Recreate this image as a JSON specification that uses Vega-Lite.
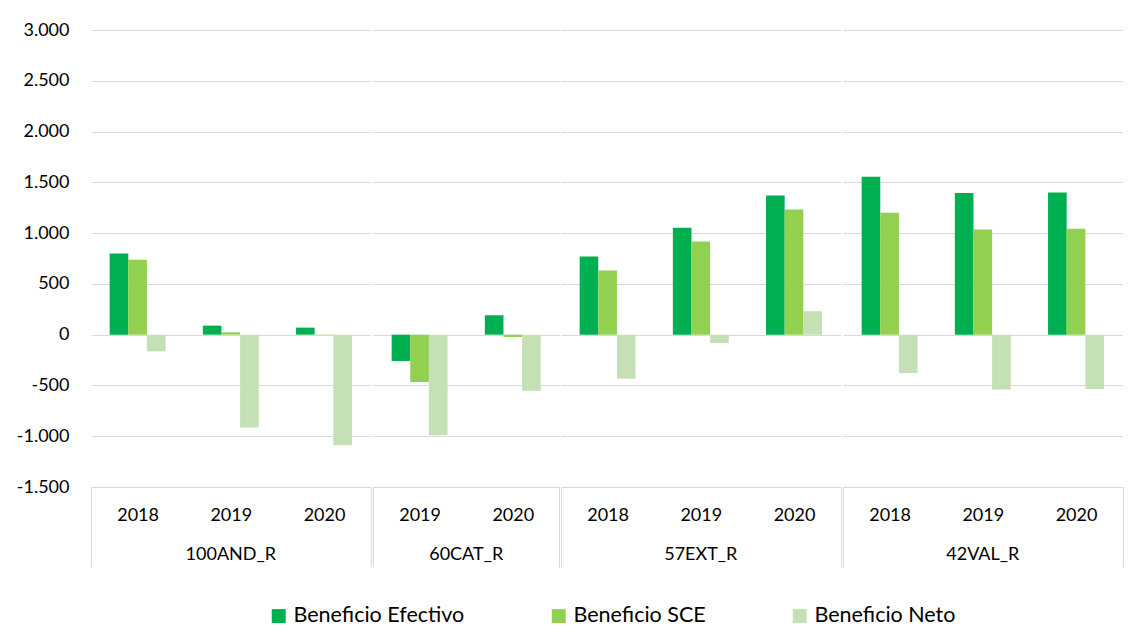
{
  "$schema": "https://vega.github.io/schema/vega-lite/v6.json",
  "padding": {"left": 16, "top": 21, "right": 10, "bottom": 0},
  "background": "white",
  "data": {
    "values": [
      {"region": "100AND_R", "year": "2018", "series": "Beneficio Efectivo", "value": 800},
      {"region": "100AND_R", "year": "2018", "series": "Beneficio SCE", "value": 738},
      {"region": "100AND_R", "year": "2018", "series": "Beneficio Neto", "value": -164},
      {"region": "100AND_R", "year": "2019", "series": "Beneficio Efectivo", "value": 89},
      {"region": "100AND_R", "year": "2019", "series": "Beneficio SCE", "value": 23},
      {"region": "100AND_R", "year": "2019", "series": "Beneficio Neto", "value": -915},
      {"region": "100AND_R", "year": "2020", "series": "Beneficio Efectivo", "value": 69},
      {"region": "100AND_R", "year": "2020", "series": "Beneficio SCE", "value": 3},
      {"region": "100AND_R", "year": "2020", "series": "Beneficio Neto", "value": -1089},
      {"region": "60CAT_R", "year": "2019", "series": "Beneficio Efectivo", "value": -259},
      {"region": "60CAT_R", "year": "2019", "series": "Beneficio SCE", "value": -466},
      {"region": "60CAT_R", "year": "2019", "series": "Beneficio Neto", "value": -990},
      {"region": "60CAT_R", "year": "2020", "series": "Beneficio Efectivo", "value": 191},
      {"region": "60CAT_R", "year": "2020", "series": "Beneficio SCE", "value": -23},
      {"region": "60CAT_R", "year": "2020", "series": "Beneficio Neto", "value": -553},
      {"region": "57EXT_R", "year": "2018", "series": "Beneficio Efectivo", "value": 770},
      {"region": "57EXT_R", "year": "2018", "series": "Beneficio SCE", "value": 633},
      {"region": "57EXT_R", "year": "2018", "series": "Beneficio Neto", "value": -433},
      {"region": "57EXT_R", "year": "2019", "series": "Beneficio Efectivo", "value": 1052},
      {"region": "57EXT_R", "year": "2019", "series": "Beneficio SCE", "value": 918},
      {"region": "57EXT_R", "year": "2019", "series": "Beneficio Neto", "value": -82},
      {"region": "57EXT_R", "year": "2020", "series": "Beneficio Efectivo", "value": 1370},
      {"region": "57EXT_R", "year": "2020", "series": "Beneficio SCE", "value": 1233},
      {"region": "57EXT_R", "year": "2020", "series": "Beneficio Neto", "value": 230},
      {"region": "42VAL_R", "year": "2018", "series": "Beneficio Efectivo", "value": 1554},
      {"region": "42VAL_R", "year": "2018", "series": "Beneficio SCE", "value": 1200},
      {"region": "42VAL_R", "year": "2018", "series": "Beneficio Neto", "value": -377},
      {"region": "42VAL_R", "year": "2019", "series": "Beneficio Efectivo", "value": 1394},
      {"region": "42VAL_R", "year": "2019", "series": "Beneficio SCE", "value": 1036},
      {"region": "42VAL_R", "year": "2019", "series": "Beneficio Neto", "value": -541},
      {"region": "42VAL_R", "year": "2020", "series": "Beneficio Efectivo", "value": 1400},
      {"region": "42VAL_R", "year": "2020", "series": "Beneficio SCE", "value": 1043},
      {"region": "42VAL_R", "year": "2020", "series": "Beneficio Neto", "value": -535}
    ]
  },
  "facet": {
    "column": {
      "field": "region",
      "type": "nominal",
      "sort": ["100AND_R", "60CAT_R", "57EXT_R", "42VAL_R"],
      "header": {
        "title": null,
        "labelOrient": "bottom",
        "labelFont": "Lato",
        "labelFontSize": 18,
        "labelColor": "#000000",
        "labelPadding": -22
      }
    }
  },
  "spacing": 0,
  "resolve": {"scale": {"x": "independent", "xOffset": "independent"}},
  "spec": {
    "width": {"step": 93.2, "for": "position"},
    "height": 457,
    "mark": {"type": "bar"},
    "encoding": {
      "x": {
        "field": "year",
        "type": "nominal",
        "scale": {"paddingInner": 0, "paddingOuter": 0},
        "axis": {
          "title": null,
          "labelAngle": 0,
          "labelFont": "Lato",
          "labelFontSize": 18,
          "labelColor": "#000000",
          "labelPadding": -61,
          "tickBand": "extent",
          "tickSize": 80,
          "tickColor": "#d9d9d9",
          "tickWidth": 1,
          "tickOpacity": {"condition": {"test": "datum.extra || datum.value == '2020'", "value": 1}, "value": 0},
          "domainColor": "#d9d9d9",
          "domainWidth": 1,
          "grid": false
        }
      },
      "xOffset": {
        "field": "series",
        "type": "nominal",
        "sort": ["Beneficio Efectivo", "Beneficio SCE", "Beneficio Neto"],
        "scale": {"paddingInner": 0, "paddingOuter": 1.089}
      },
      "y": {
        "field": "value",
        "type": "quantitative",
        "scale": {"domain": [-1500, 3000], "nice": false, "zero": false},
        "axis": {
          "title": null,
          "values": [-1500, -1000, -500, 0, 500, 1000, 1500, 2000, 2500, 3000],
          "labelExpr": "replace(replace(format(datum.value, ','), ',', '.'), '\u2212', '-')",
          "labelFont": "Lato",
          "labelFontSize": 18,
          "labelColor": "#000000",
          "labelPadding": 21,
          "ticks": false,
          "domain": false,
          "grid": true,
          "gridColor": "#d9d9d9",
          "gridWidth": 1
        }
      },
      "color": {
        "field": "series",
        "type": "nominal",
        "sort": ["Beneficio Efectivo", "Beneficio SCE", "Beneficio Neto"],
        "scale": {
          "domain": ["Beneficio Efectivo", "Beneficio SCE", "Beneficio Neto"],
          "range": ["#00B050", "#92D050", "#C5E0B4"]
        },
        "legend": {
          "title": null,
          "orient": "none",
          "direction": "horizontal",
          "legendX": 177,
          "legendY": 575,
          "padding": 0,
          "symbolType": "square",
          "symbolSize": 196,
          "symbolStrokeWidth": 0,
          "labelFont": "Lato",
          "labelFontSize": 21.5,
          "labelColor": "#000000",
          "labelOffset": 4,
          "labelLimit": 400,
          "columnPadding": 83
        }
      }
    }
  },
  "config": {
    "view": {"stroke": null}
  }
}
